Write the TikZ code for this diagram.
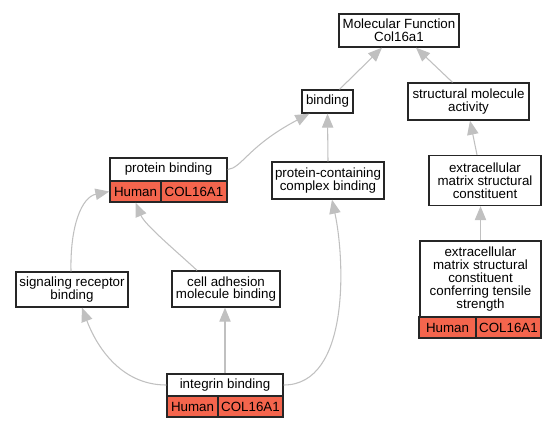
\documentclass[tikz,border=0pt]{standalone}
\usepackage{fontspec}
\setmainfont{Liberation Sans}
\usetikzlibrary{arrows.meta,calc}
\definecolor{hl}{RGB}{244,101,77}
\definecolor{edgegray}{RGB}{192,192,192}
\begin{document}
\begin{tikzpicture}[x=0.75pt,y=-0.75pt,
  box/.style={draw=black!85,line width=1pt,fill=white,inner sep=0pt,align=center,font=\fontsize{10}{9.6}\selectfont},
  cell/.style={box,fill=hl},
  edge/.style={draw=edgegray,line width=0.8pt,-{Triangle[length=10.5pt,width=8.5pt]}}]
\useasboundingbox (0,0) rectangle (556,429);
% nodes
\node[box,minimum width=90pt,minimum height=24.75pt] (mf) at (399,30.5) {Molecular Function\\Col16a1};
\node[box,minimum width=38.25pt,minimum height=17.25pt] (bind) at (327.5,101.5) {binding};
\node[box,minimum width=90.75pt,minimum height=27.75pt] (sma) at (468.5,101.5) {structural molecule\\activity};
\node[box,minimum width=87.75pt,minimum height=17.25pt] (pb) at (168.5,169.5) {protein binding};
\node[cell,minimum width=38.25pt,minimum height=15.75pt] (pbhu) at (135.5,191.5) {Human};
\node[cell,minimum width=49.5pt,minimum height=15.75pt] (pbcol) at (194,191.5) {COL16A1};
\node[box,minimum width=84pt,minimum height=27.75pt] (pcb) at (328,180.5) {protein-containing\\complex binding};
\node[box,minimum width=84pt,minimum height=37.5pt] (ecm) at (485,180.5) {extracellular\\matrix structural\\constituent};
\node[box,minimum width=84pt,minimum height=26.25pt] (srb) at (72,289.5) {signaling receptor\\binding};
\node[box,minimum width=81pt,minimum height=27pt] (cam) at (226,289) {cell adhesion\\molecule binding};
\node[box,minimum width=90.75pt,minimum height=57pt] (ecmt) at (480.5,279) {extracellular\\matrix structural\\constituent\\conferring tensile\\strength};
\node[cell,minimum width=42.75pt,minimum height=15.75pt] (ecmthu) at (447.5,327.5) {Human};
\node[cell,minimum width=48.75pt,minimum height=15.75pt] (ecmtcol) at (508.5,327.5) {COL16A1};
\node[box,minimum width=87pt,minimum height=16.5pt] (ib) at (225,385) {integrin binding};
\node[cell,minimum width=38.25pt,minimum height=15.75pt] (ibhu) at (192.5,406.5) {Human};
\node[cell,minimum width=48.75pt,minimum height=15.75pt] (ibcol) at (250.5,406.5) {COL16A1};
% edges
\draw[edge] ($(bind.north)+(12,0)$) -- ($(mf.south)+(-17,0)$);
\draw[edge] ($(sma.north)+(-16,0)$) -- ($(mf.south)+(17,0)$);
\draw[edge] (pcb.north) -- (bind.south);
\draw[edge] ($(ecm.north)+(-8,0)$) -- ($(sma.south)+(1.5,0)$);
\draw[edge] (ecmt.north) -- (ecmt.north |- ecm.south);
\draw[edge] (ib.north) -- (ib.north |- cam.south);
\draw[edge] (pb.east) .. controls (242,168) and (248,146) .. ($(bind.south west)+(8,0)$);
\draw[edge] ($(srb.north)+(-1,0)$) .. controls (70,225) and (82,197) .. (pbhu.west);
\draw[edge] ($(cam.north)+(-29,0)$) .. controls (175,250) and (145,225) .. (pbhu.south);
\draw[edge] (ib.west) .. controls (120,385) and (96,345) .. ($(srb.south)+(10,0)$);
\draw[edge] (ib.east) .. controls (350,385) and (345,260) .. ($(pcb.south)+(4,0)$);
\end{tikzpicture}
\end{document}
